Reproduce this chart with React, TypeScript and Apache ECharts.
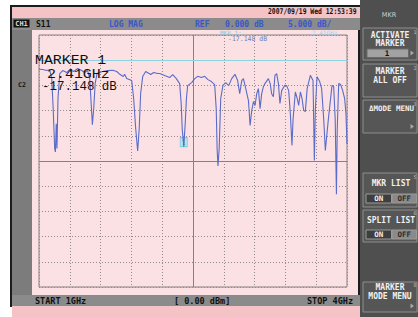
import React, { useEffect, useRef } from "react";
import * as echarts from "echarts";

// ---- data ----
const FREQ_GHZ = [
  1.0, 1.036, 1.075, 1.104, 1.124, 1.138, 1.153, 1.16, 1.168, 1.175, 1.185, 1.202, 1.231, 1.27, 1.299,
  1.338, 1.377, 1.416, 1.445, 1.474, 1.494, 1.508, 1.52, 1.533, 1.547, 1.565, 1.591, 1.62, 1.669, 1.718,
  1.757, 1.791, 1.82, 1.834, 1.854, 1.903, 1.922, 1.942, 1.961, 1.976, 1.99, 2.01, 2.039, 2.088, 2.117,
  2.156, 2.176, 2.224, 2.273, 2.302, 2.338, 2.37, 2.385, 2.395, 2.41, 2.424, 2.436, 2.448, 2.487, 2.517,
  2.546, 2.582, 2.614, 2.646, 2.679, 2.711, 2.726, 2.735, 2.743, 2.755, 2.77, 2.792, 2.818, 2.848, 2.877,
  2.909, 2.935, 2.955, 2.975, 2.991, 3.014, 3.04, 3.056, 3.072, 3.089, 3.104, 3.121, 3.137, 3.153, 3.169,
  3.186, 3.201, 3.234, 3.252, 3.266, 3.283, 3.298, 3.315, 3.332, 3.347, 3.364, 3.393, 3.412, 3.432, 3.448,
  3.464, 3.475, 3.497, 3.515, 3.529, 3.546, 3.562, 3.578, 3.594, 3.612, 3.643, 3.669, 3.682, 3.692, 3.708,
  3.734, 3.753, 3.773, 3.789, 3.817, 3.854, 3.87, 3.885, 3.897, 3.905, 3.919, 3.938, 3.958, 3.977, 3.99, 4.0,
];
const S11_DB = [
  -1.8, -1.85, -2.05, -1.9, -3.6, -9.6, -17.6, -18.2, -12.6, -17.5, -7.6, -2.65, -2.05, -2.45, -1.85,
  -2.25, -1.65, -2.05, -2.45, -2.05, -3.65, -8.6, -12.8, -9.6, -4.64, -2.65, -2.45, -2.25, -2.05, -2.0,
  -2.25, -2.85, -3.25, -2.8, -3.65, -4.05, -7.6, -13.6, -18.0, -13.6, -6.6, -3.25, -2.25, -2.85, -2.45,
  -2.65, -2.65, -3.05, -3.45, -2.85, -3.65, -4.64, -8.6, -13.6, -17.148, -12.6, -7.6, -5.04, -4.44, -3.65,
  -3.2, -3.45, -3.2, -3.85, -4.24, -4.84, -9.6, -17.6, -21.0, -17.6, -7.6, -5.0, -4.44, -5.04, -3.65,
  -2.8, -4.04, -6.64, -4.04, -3.65, -5.64, -8.0, -12.95, -10.0, -8.2, -9.0, -6.64, -5.64, -9.6, -6.64,
  -5.24, -4.64, -3.65, -4.64, -6.64, -7.25, -3.0, -2.65, -4.64, -8.6, -6.04, -5.0, -5.04, -6.04, -10.6,
  -16.9, -11.6, -6.3, -7.6, -8.96, -6.3, -7.6, -9.96, -10.2, -5.64, -3.0, -4.04, -19.9, -9.6, -3.3,
  -4.24, -5.64, -11.6, -17.9, -12.0, -5.0, -5.24, -11.6, -26.6, -13.6, -4.64, -4.84, -6.04, -7.6, -10.6, -16.6,
];
const START_GHZ = 1;
const STOP_GHZ = 4;
const REF_DB = 0;
const SCALE_DB = 5;
const TOP_DB = 5;
const BOTTOM_DB = -45;
const MARKER_FREQ = 2.41;
const MARKER_DB = -17.148;
const DATE_TEXT = "2007/09/19 Wed 12:53:39";

const MONO = '"DejaVu Sans Mono"';
const COUR = '"Liberation Mono"';

function rect(x: number, y: number, w: number, h: number, fill: string, stroke?: string, z = -5) {
  return {
    type: "rect",
    silent: true,
    z,
    shape: { x, y, width: w, height: h },
    style: { fill, stroke: stroke || null, lineWidth: 1 },
  };
}
function txt(
  x: number,
  y: number,
  text: string,
  font: string,
  fill: string,
  align: string = "left",
  scaleX = 1,
  lineHeight?: number
) {
  const style: any = { x: 0, y: 0, text, font, fill, align, verticalAlign: "middle" };
  if (lineHeight) style.lineHeight = lineHeight;
  return {
    type: "text",
    silent: true,
    z: 20,
    x,
    y,
    scaleX,
    style,
  };
}
function arrow(x: number, y: number) {
  return {
    type: "polygon",
    silent: true,
    z: 20,
    shape: { points: [[x, y - 2.5], [x + 3.5, y], [x, y + 2.5]] },
    style: { fill: "#a8a8a8" },
  };
}
function button(y: number, h: number) {
  return rect(363, y, 54, h, "#565656", "#8e8e8e", -4);
}
function toggle(y: number) {
  return [
    rect(366, y, 25.5, 9, "#3e3e3e", "#9a9a9a", -3),
    rect(392, y, 24.5, 9, "#8a8a8a", "#9a9a9a", -3),
    txt(378.7, y + 4.7, "ON", `bold 7.5px ${MONO}`, "#f0f0f0", "center"),
    txt(404.3, y + 4.7, "OFF", `bold 7.5px ${MONO}`, "#2a2a2a", "center"),
  ];
}

export default function App() {
  const ref = useRef<HTMLDivElement>(null);
  useEffect(() => {
    if (!ref.current) return;
    const chart = echarts.init(ref.current, undefined, { renderer: "svg" });
    const btnFont = `bold 8px ${MONO}`;
    const statusFont = `bold 8px ${MONO}`;
    const bottomFont = `bold 8.5px ${MONO}`;
    const graphics: any[] = [
      // instrument frame
      rect(10, 5, 350, 302, "#1c1c1c", undefined, -8),
      rect(12, 7, 348, 11, "#f5c3c6", undefined, -7),
      rect(12, 18, 348, 12, "#8b8b8b", undefined, -7),
      rect(12, 30, 20, 265, "#7c7c7c", undefined, -7),
      rect(32, 30, 326, 265, "#fbe1e3", undefined, -7),
      rect(12, 295, 348, 11, "#8b8b8b", undefined, -7),
      rect(12, 306, 348, 11, "#f5c3c6", undefined, -7),
      rect(360, 0, 58, 317, "#4f4f4f", undefined, -7),
      // status bar
      rect(13.5, 19.5, 16, 8, "#111111", undefined, -3),
      txt(21.5, 23.8, "CH1", `bold 7px ${MONO}`, "#d8d8d8", "center"),
      txt(36, 24, "S11", statusFont, "#111111"),
      txt(109, 24, "LOG MAG", statusFont, "#3a56c8"),
      txt(195, 24, "REF", statusFont, "#3a56c8"),
      txt(225, 24, "0.000 dB", statusFont, "#3a56c8"),
      txt(288, 24, "5.000 dB/", statusFont, "#3a56c8"),
      txt(268, 11.5, DATE_TEXT, `bold 8px ${MONO}`, "#111111", "left", 0.8),
      txt(18, 85, "C2", `bold 6.5px ${MONO}`, "#111111"),
      // marker readouts
      txt(220, 32.5, "MKR 1:", `6px ${MONO}`, "#8cc6e4"),
      txt(312, 32.5, "2.41GHz", `6px ${MONO}`, "#9ad4ee"),
      txt(228, 39.2, "-17.148 dB", `6.5px ${MONO}`, "#7080b8"),
      txt(35, 60.6, "MARKER 1", `13.5px ${COUR}`, "#111111", "left", 1.1),
      txt(47, 74, "2.41GHz", `13px ${COUR}`, "#111111", "left", 1.15),
      txt(42, 87, "-17.148 dB", `12px ${COUR}`, "#111111", "left", 1.04),
      // bottom bar
      txt(35, 301, "START 1GHz", bottomFont, "#111111"),
      txt(174, 301, "[ 0.00 dBm]", bottomFont, "#111111"),
      txt(353, 301, "STOP 4GHz", bottomFont, "#111111", "right"),
      // softkey panel
      txt(389, 15, "MKR", `6.5px "DejaVu Sans"`, "#d0d0d0", "center"),
      button(28, 32),
      txt(390, 35.5, "ACTIVATE", btnFont, "#f0f0f0", "center"),
      txt(390, 43.5, "MARKER", btnFont, "#f0f0f0", "center"),
      rect(367, 49, 41.5, 8.5, "#a2a2a2", "#6a6a6a", -3),
      txt(387, 53.5, "1", `bold 7.5px ${MONO}`, "#111111", "center"),
      arrow(410.5, 53),
      txt(415, 31.5, "1", `5px ${MONO}`, "#bdbdbd", "center"),
      button(64, 33),
      txt(390, 71.5, "MARKER", btnFont, "#f0f0f0", "center"),
      txt(390, 80.5, "ALL OFF", btnFont, "#f0f0f0", "center"),
      txt(415, 67.5, "2", `5px ${MONO}`, "#bdbdbd", "center"),
      button(100, 33),
      txt(391.5, 108.5, "ΔMODE MENU", `bold 7.5px ${MONO}`, "#f0f0f0", "center"),
      arrow(410.5, 126.5),
      txt(415, 103.5, "3", `5px ${MONO}`, "#bdbdbd", "center"),
      button(173, 34),
      txt(391, 183.5, "MKR LIST", btnFont, "#f0f0f0", "center"),
      txt(415, 176.5, "5", `5px ${MONO}`, "#bdbdbd", "center"),
      ...toggle(194),
      button(210, 32),
      txt(391, 220, "SPLIT LIST", btnFont, "#f0f0f0", "center"),
      txt(415, 213, "6", `5px ${MONO}`, "#bdbdbd", "center"),
      ...toggle(230),
      button(282, 30),
      txt(390, 287.5, "MARKER", btnFont, "#f0f0f0", "center"),
      txt(390, 296.5, "MODE MENU", btnFont, "#f0f0f0", "center"),
      arrow(410.5, 306),
      txt(415, 285, "8", `5px ${MONO}`, "#bdbdbd", "center"),
    ];

    const dotted = { color: "#948a8a", width: 1, type: [1, 2] as any };
    const solid = { color: "#8a7f7f", width: 1, type: "solid" as any };

    chart.setOption({
      animation: false,
      backgroundColor: "#ffffff",
      graphic: { elements: graphics },
      grid: {
        left: 39,
        top: 35,
        width: 308,
        height: 252,
        show: true,
        borderColor: "#8a7f7f",
        borderWidth: 1,
        backgroundColor: "transparent",
        containLabel: false,
      },
      xAxis: [
        {
          type: "value",
          min: START_GHZ,
          max: STOP_GHZ,
          show: true,
          axisLine: { show: false },
          axisTick: { show: false },
          axisLabel: { show: false },
          splitLine: { show: false },
        },
        {
          type: "value",
          min: 0,
          max: 10,
          interval: 1,
          position: "top",
          axisLine: { show: false },
          axisTick: { show: false },
          axisLabel: { show: false },
          splitLine: { show: true, lineStyle: dotted },
        },
      ],
      yAxis: [
        {
          type: "value",
          min: BOTTOM_DB,
          max: TOP_DB,
          interval: SCALE_DB,
          axisLine: { show: false },
          axisTick: { show: false },
          axisLabel: { show: false },
          splitLine: { show: true, lineStyle: dotted },
        },
      ],
      series: [
        {
          type: "line",
          xAxisIndex: 0,
          yAxisIndex: 0,
          data: FREQ_GHZ.map((f, i) => [f, S11_DB[i]]),
          showSymbol: false,
          symbol: "none",
          lineStyle: { color: "#5a6cc9", width: 1.1 },
          z: 5,
          markLine: {
            silent: true,
            symbol: ["none", "none"],
            label: { show: false },
            data: [
              { xAxis: (START_GHZ + STOP_GHZ) / 2, lineStyle: solid },
              { yAxis: (TOP_DB + BOTTOM_DB) / 2, lineStyle: solid },
              { yAxis: REF_DB, lineStyle: { color: "#8ed3e0", width: 1, type: "solid" } },
            ],
          },
          markPoint: {
            silent: true,
            symbol: "rect",
            symbolSize: [7, 9],
            symbolOffset: [0, -4.5],
            itemStyle: { color: "rgba(165,228,240,0.75)", borderColor: "#7fcfe0", borderWidth: 1 },
            label: { show: true, formatter: "1", fontSize: 7, color: "#4aa8c0", position: "inside" },
            data: [{ coord: [MARKER_FREQ, MARKER_DB] }],
          },
        },
      ],
    });
    return () => chart.dispose();
  }, []);
  return (
    <div
      ref={ref}
      style={{ position: "fixed", left: 0, top: 0, width: 418, height: 317 }}
    />
  );
}
